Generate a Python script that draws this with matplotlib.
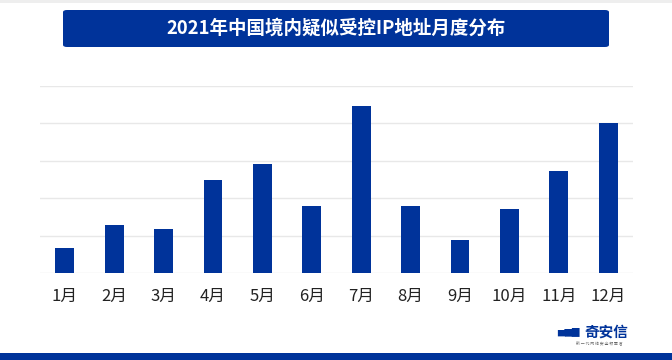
import matplotlib
matplotlib.use("Agg")
import matplotlib.pyplot as plt
from matplotlib.patches import FancyBboxPatch, Rectangle

plt.rcParams['font.family'] = ['Noto Sans CJK SC', 'DejaVu Sans']

months = ['1月', '2月', '3月', '4月', '5月', '6月', '7月', '8月', '9月', '10月', '11月', '12月']
values = [67, 129, 118, 249, 291, 179, 446, 179, 89, 171, 273, 401]
title = '2021年中国境内疑似受控IP地址月度分布'

blue = '#00339a'

fig = plt.figure(figsize=(6.72, 3.6), dpi=100)
fig.patch.set_facecolor('white')

# top light strip and bottom blue strip
fig.patches.append(Rectangle((0, 1 - 3/360), 1, 3/360, transform=fig.transFigure,
                             facecolor='#eeeeee', edgecolor='none'))
fig.patches.append(Rectangle((0, 0), 1, 7/360, transform=fig.transFigure,
                             facecolor=blue, edgecolor='none'))

# title box
fig.patches.append(FancyBboxPatch((63/672, 1 - 47/360), (609-63)/672, 37/360,
                                  boxstyle='round,pad=0,rounding_size=0.006',
                                  transform=fig.transFigure, facecolor=blue,
                                  edgecolor='none'))
fig.text(336/672, 1 - 28.5/360, title, ha='center', va='center', color='white',
         fontsize=13.3, fontweight='bold')

ax = fig.add_axes([40/672, 1 - 273/360, (633-40)/672, (273-86)/360])
x = range(len(months))
ax.bar(x, values, width=0.38, color=blue, zorder=3)
ax.set_ylim(0, 500)
ax.set_xlim(-0.5, len(months) - 0.5)
ax.set_yticks([0, 100, 200, 300, 400, 500])
ax.set_yticklabels([])
ax.grid(axis='y', color='#e8e8e8', linewidth=1, zorder=0)
ax.tick_params(axis='y', length=0)
ax.tick_params(axis='x', length=0, pad=11, labelsize=12, labelcolor='#222222')
ax.set_xticks(list(x))
ax.set_xticklabels(months)
for s in ax.spines.values():
    s.set_visible(False)

# logo approximation
fig.text(628/672, 1 - 332/360, '奇安信', ha='right', va='center', color=blue,
         fontsize=10.5, fontweight='bold')
fig.text(599/672, 1 - 344/360, '新 一 代 网 络 安 全 领 军 者', ha='center', va='center',
         color='#666666', fontsize=2.8)
fig.text(580/672, 1 - 331/360, '▅▆▇', ha='right', va='center', color=blue, fontsize=7,
         family=['DejaVu Sans'])

fig.savefig('out.png', dpi=100)
